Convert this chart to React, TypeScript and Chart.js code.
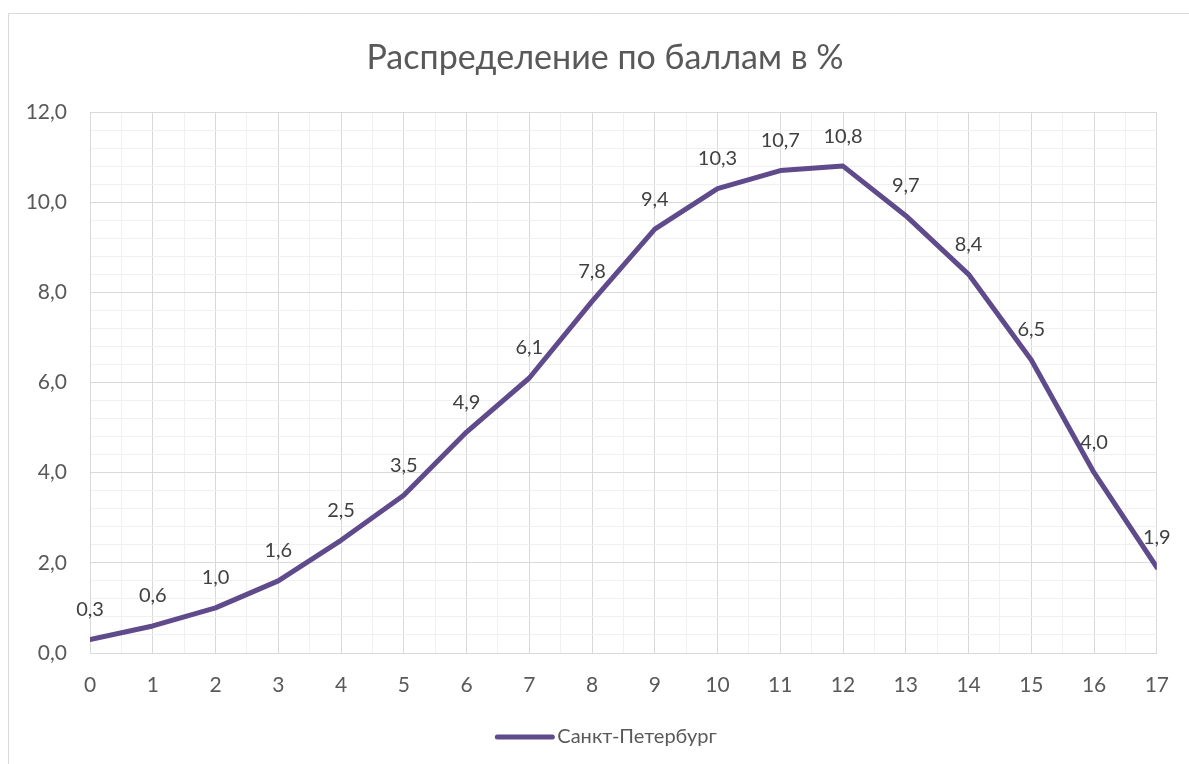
import React, { useEffect, useRef } from "react";
import { Chart, registerables } from "chart.js";

Chart.register(...registerables);

const titleText = "Распределение по баллам в %";
const seriesName = "Санкт-Петербург";
const categories = [0, 1, 2, 3, 4, 5, 6, 7, 8, 9, 10, 11, 12, 13, 14, 15, 16, 17];
const values = [0.3, 0.6, 1.0, 1.6, 2.5, 3.5, 4.9, 6.1, 7.8, 9.4, 10.3, 10.7, 10.8, 9.7, 8.4, 6.5, 4.0, 1.9];
const yTicks = [0, 2, 4, 6, 8, 10, 12];

const FONT = "Lato";
const LINE_COLOR = "#5f4b8b";
const TEXT = "#595959";
const MAJOR = "#d9d9d9";
const MINOR = "#f0f0f0";

const fmt = (v: number) => v.toFixed(1).replace(".", ",");
const isInt = (v: number, step: number) => Math.abs(v / step - Math.round(v / step)) < 1e-6;

const framePlugin = {
  id: "frame",
  beforeDraw(chart: any) {
    const { ctx, width, height } = chart;
    ctx.save();
    ctx.fillStyle = "#ffffff";
    ctx.fillRect(0, 0, width, height);
    ctx.strokeStyle = MAJOR;
    ctx.lineWidth = 1;
    ctx.beginPath();
    ctx.moveTo(8.5, height);
    ctx.lineTo(8.5, 13.5);
    ctx.lineTo(width, 13.5);
    ctx.stroke();
    ctx.restore();
  },
};

// Title and legend, centred on the frame (not on the canvas) as in the reference
const headerFooterPlugin = {
  id: "headerFooter",
  afterDraw(chart: any) {
    const { ctx } = chart;
    ctx.save();
    ctx.fillStyle = TEXT;
    ctx.font = `34px ${FONT}`;
    ctx.textAlign = "center";
    ctx.textBaseline = "middle";
    ctx.fillText(titleText, 605, 58);

    const ly = 737;
    ctx.font = `20px ${FONT}`;
    const tw = ctx.measureText(seriesName).width;
    const lineLen = 55;
    const gap = 5;
    const total = lineLen + gap + tw;
    const x0 = 607 - total / 2;
    ctx.strokeStyle = LINE_COLOR;
    ctx.lineWidth = 5;
    ctx.lineCap = "round";
    ctx.beginPath();
    ctx.moveTo(x0, ly);
    ctx.lineTo(x0 + lineLen, ly);
    ctx.stroke();
    ctx.textAlign = "left";
    ctx.fillText(seriesName, x0 + lineLen + gap, ly);
    ctx.restore();
  },
};

const labelPlugin = {
  id: "valueLabels",
  afterDatasetsDraw(chart: any) {
    const { ctx } = chart;
    const meta = chart.getDatasetMeta(0);
    ctx.save();
    ctx.font = `20px ${FONT}`;
    ctx.fillStyle = "#404040";
    ctx.textAlign = "center";
    ctx.textBaseline = "middle";
    meta.data.forEach((pt: any, i: number) => {
      ctx.fillText(fmt(values[i]), pt.x, pt.y - 30);
    });
    ctx.restore();
  },
};

export default function App() {
  const ref = useRef<HTMLCanvasElement>(null);
  useEffect(() => {
    if (!ref.current) return;
    const chart = new Chart(ref.current, {
      type: "line",
      data: {
        datasets: [
          {
            label: seriesName,
            data: categories.map((c, i) => ({ x: c, y: values[i] })),
            borderColor: LINE_COLOR,
            backgroundColor: LINE_COLOR,
            borderWidth: 5,
            borderCapStyle: "round",
            borderJoinStyle: "round",
            pointRadius: 0,
            pointHoverRadius: 0,
            tension: 0,
          },
        ],
      },
      options: {
        animation: false,
        responsive: false,
        events: [],
        layout: { padding: { left: 0, right: 30, top: 112, bottom: 47 } },
        plugins: {
          title: { display: false },
          legend: { display: false },
          tooltip: { enabled: false },
        },
        scales: {
          x: {
            type: "linear",
            min: 0,
            max: 17,
            afterFit(scale: any) {
              scale.height = 64;
            },
            ticks: {
              stepSize: 0.5,
              autoSkip: false,
              maxRotation: 0,
              padding: 20,
              color: TEXT,
              font: { family: FONT, size: 21 },
              callback: (v: any) => (isInt(Number(v), 1) ? String(Math.round(Number(v))) : ""),
            },
            grid: {
              drawTicks: false,
              color: (ctx: any) => (isInt(ctx.tick.value, 1) ? MAJOR : MINOR),
              lineWidth: 1,
            },
            border: { color: MAJOR },
          },
          y: {
            min: 0,
            max: 12,
            afterFit(scale: any) {
              scale.width = 90;
            },
            ticks: {
              stepSize: 0.4,
              autoSkip: false,
              padding: 23,
              color: TEXT,
              font: { family: FONT, size: 21 },
              callback: (v: any) => {
                const n = Number(v);
                const hit = yTicks.find((t) => Math.abs(t - n) < 1e-6);
                return hit !== undefined ? fmt(hit) : "";
              },
            },
            grid: {
              drawTicks: false,
              color: (ctx: any) => (isInt(ctx.tick.value, 2) ? MAJOR : MINOR),
              lineWidth: 1,
            },
            border: { color: MAJOR },
          },
        },
      },
      plugins: [framePlugin, labelPlugin, headerFooterPlugin],
    } as any);
    return () => chart.destroy();
  }, []);
  return (
    <div style={{ position: "fixed", left: 0, top: 0, width: 1189, height: 764 }}>
      <canvas ref={ref} width={1189} height={764} style={{ display: "block" }} />
    </div>
  );
}
